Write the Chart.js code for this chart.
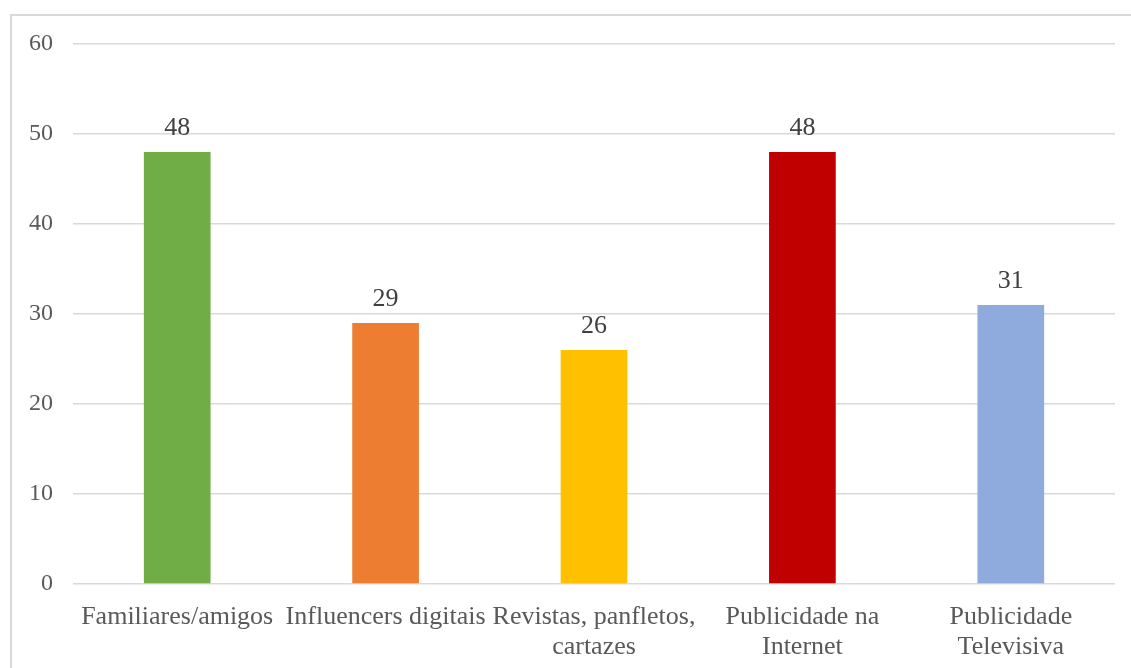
<!DOCTYPE html>
<html>
<head>
<meta charset="utf-8">
<script src="https://cdn.jsdelivr.net/npm/chart.js@4.4.1/dist/chart.umd.min.js"></script>
<style>
  html, body { margin: 0; padding: 0; background: #fff; }
  #wrap { width: 1131px; height: 668px; position: relative; }
</style>
</head>
<body>
<div id="wrap"><canvas id="myChart"></canvas></div>
<script>
const categories = [
    'Familiares/amigos',
    'Influencers digitais',
    ['Revistas, panfletos,', 'cartazes'],
    ['Publicidade na', 'Internet'],
    ['Publicidade', 'Televisiva']
];
const values = [48, 29, 26, 48, 31];
const barColors = ['#70AD47', '#ED7D31', '#FFC000', '#C00000', '#8FAADC'];
const yTicks = [0, 10, 20, 30, 40, 50, 60];

const fontFamily = '"Liberation Serif", "Times New Roman", serif';

// frame around the chart, it runs off the right and bottom edges
const framePlugin = {
    id: 'frame',
    beforeDraw(chart) {
        const c = chart.ctx;
        c.save();
        c.strokeStyle = '#d9d9d9';
        c.lineWidth = 2;
        c.strokeRect(11, 15, 1200, 700);
        c.restore();
    }
};

// value labels over the bars
const valueLabels = {
    id: 'valueLabels',
    afterDatasetsDraw(chart) {
        const c = chart.ctx;
        const meta = chart.getDatasetMeta(0);
        c.save();
        c.font = '26px ' + fontFamily;
        c.fillStyle = '#404040';
        c.textAlign = 'center';
        c.textBaseline = 'alphabetic';
        meta.data.forEach((bar, i) => {
            c.fillText(String(values[i]), bar.x, bar.y - 17);
        });
        c.restore();
    }
};

const ctx = document.getElementById('myChart').getContext('2d');

const config = {
    type: 'bar',
    data: {
        labels: categories,
        datasets: [{
            data: values,
            backgroundColor: barColors,
            borderWidth: 0,
            categoryPercentage: 1,
            barPercentage: 0.32
        }]
    },
    options: {
        responsive: true,
        maintainAspectRatio: false,
        animation: false,
        layout: {
            padding: { top: 44, right: 16, bottom: 0, left: 0 }
        },
        scales: {
            y: {
                min: 0,
                max: 60,
                afterFit(scale) { scale.width = 73; },
                afterBuildTicks(scale) { scale.ticks = yTicks.map(v => ({ value: v })); },
                border: { display: false },
                grid: {
                    color: '#d9d9d9',
                    lineWidth: 1.5,
                    drawTicks: false
                },
                ticks: {
                    padding: 20,
                    color: '#595959',
                    font: { family: fontFamily, size: 24 }
                }
            },
            x: {
                afterFit(scale) { scale.height = 84; },
                border: { display: false },
                grid: { display: false },
                ticks: {
                    padding: 10,
                    maxRotation: 0,
                    minRotation: 0,
                    autoSkip: false,
                    color: '#595959',
                    font: { family: fontFamily, size: 26, lineHeight: 1.15 }
                }
            }
        },
        plugins: {
            legend: { display: false },
            tooltip: { enabled: false }
        }
    },
    plugins: [framePlugin, valueLabels]
};

const myChart = new Chart(ctx, config);
</script>
</body>
</html>
